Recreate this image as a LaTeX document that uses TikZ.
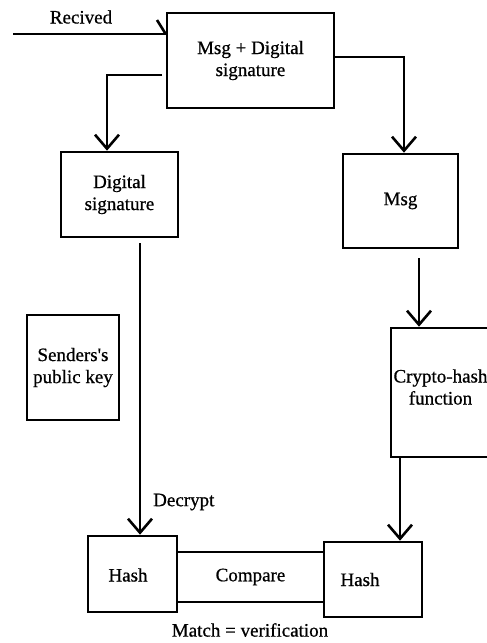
\documentclass[tikz,border=0pt]{standalone}
\usepackage{fontspec}
\setmainfont{Liberation Serif}[BoldFont=Liberation Serif, BoldFeatures={FakeBold=0.7}]
\usetikzlibrary{arrows.meta}
\begin{document}
\begin{tikzpicture}[x=1pt,y=-1pt,
  box/.style={draw, line width=2.6pt, inner sep=0pt, align=center, font=\fontsize{19}{22}\selectfont\bfseries},
  txt/.style={inner sep=0pt, align=center, font=\fontsize{19}{22}\selectfont\bfseries},
  conn/.style={line width=2.6pt},
  arr/.style={conn, -{Straight Barb[length=14pt,width=24pt]}}]
\useasboundingbox (0,0) rectangle (487,643);
\begin{scope}
\clip (0,0) rectangle (487,643);
\node[box, minimum width=167pt, minimum height=95pt] (top) at (250.5,60.5) {Msg + Digital\\signature};
\node[box, minimum width=117pt, minimum height=85pt] (ds) at (119.5,194.5) {Digital\\signature};
\node[box, minimum width=115pt, minimum height=94pt] (msg) at (400.5,201) {Msg};
\node[box, minimum width=99pt, minimum height=129pt] (ch) at (440.5,392.5) {};
\node[txt] (cht) at (440.5,387) {Crypto-hash\\function};
\node[box, minimum width=92pt, minimum height=105pt] (pk) at (73,367.5) {Senders\textquotesingle s\\public key};
\node[box, minimum width=89pt, minimum height=76pt] (h1) at (132.5,574) {};
\node[txt] (h1t) at (128,575) {Hash};
\node[box, minimum width=98pt, minimum height=75pt] (h2) at (373,579.5) {};
\node[txt] (h2t) at (360,579.5) {Hash};
\node[box, minimum width=147pt, minimum height=50pt] (cmp) at (250.5,577) {Compare};
\node[txt] (match) at (250,630) {Match = verification};
\node[txt, anchor=west] (dec) at (153,502) {Decrypt};
\node[txt] (rec) at (81,17) {Recived};

\coordinate (rin) at (13,34);
\coordinate (rbarb) at (157,20);
\coordinate (rtip) at (rin -| top.west);
\draw[conn] (rin) -- (rtip);
\draw[conn] (rbarb) -- (rtip);

\coordinate (tl) at (162,75);
\draw[arr] (tl) -| ([xshift=-12.5pt]ds.north);
\draw[arr] ([yshift=3.5pt]top.east) -| ([xshift=3.5pt]msg.north);

\coordinate (m1) at ([xshift=18.5pt,yshift=-9pt]msg.south);
\draw[arr] (m1) -- (m1 |- ch.north);

\coordinate (d1) at ([xshift=20.5pt,yshift=-5pt]ds.south);
\draw[arr] (d1) -- (d1 |- h1.north);

\coordinate (c1) at ([xshift=-40.5pt]ch.south);
\draw[arr] (c1) -- (c1 |- h2.north);
\end{scope}
\end{tikzpicture}
\end{document}
